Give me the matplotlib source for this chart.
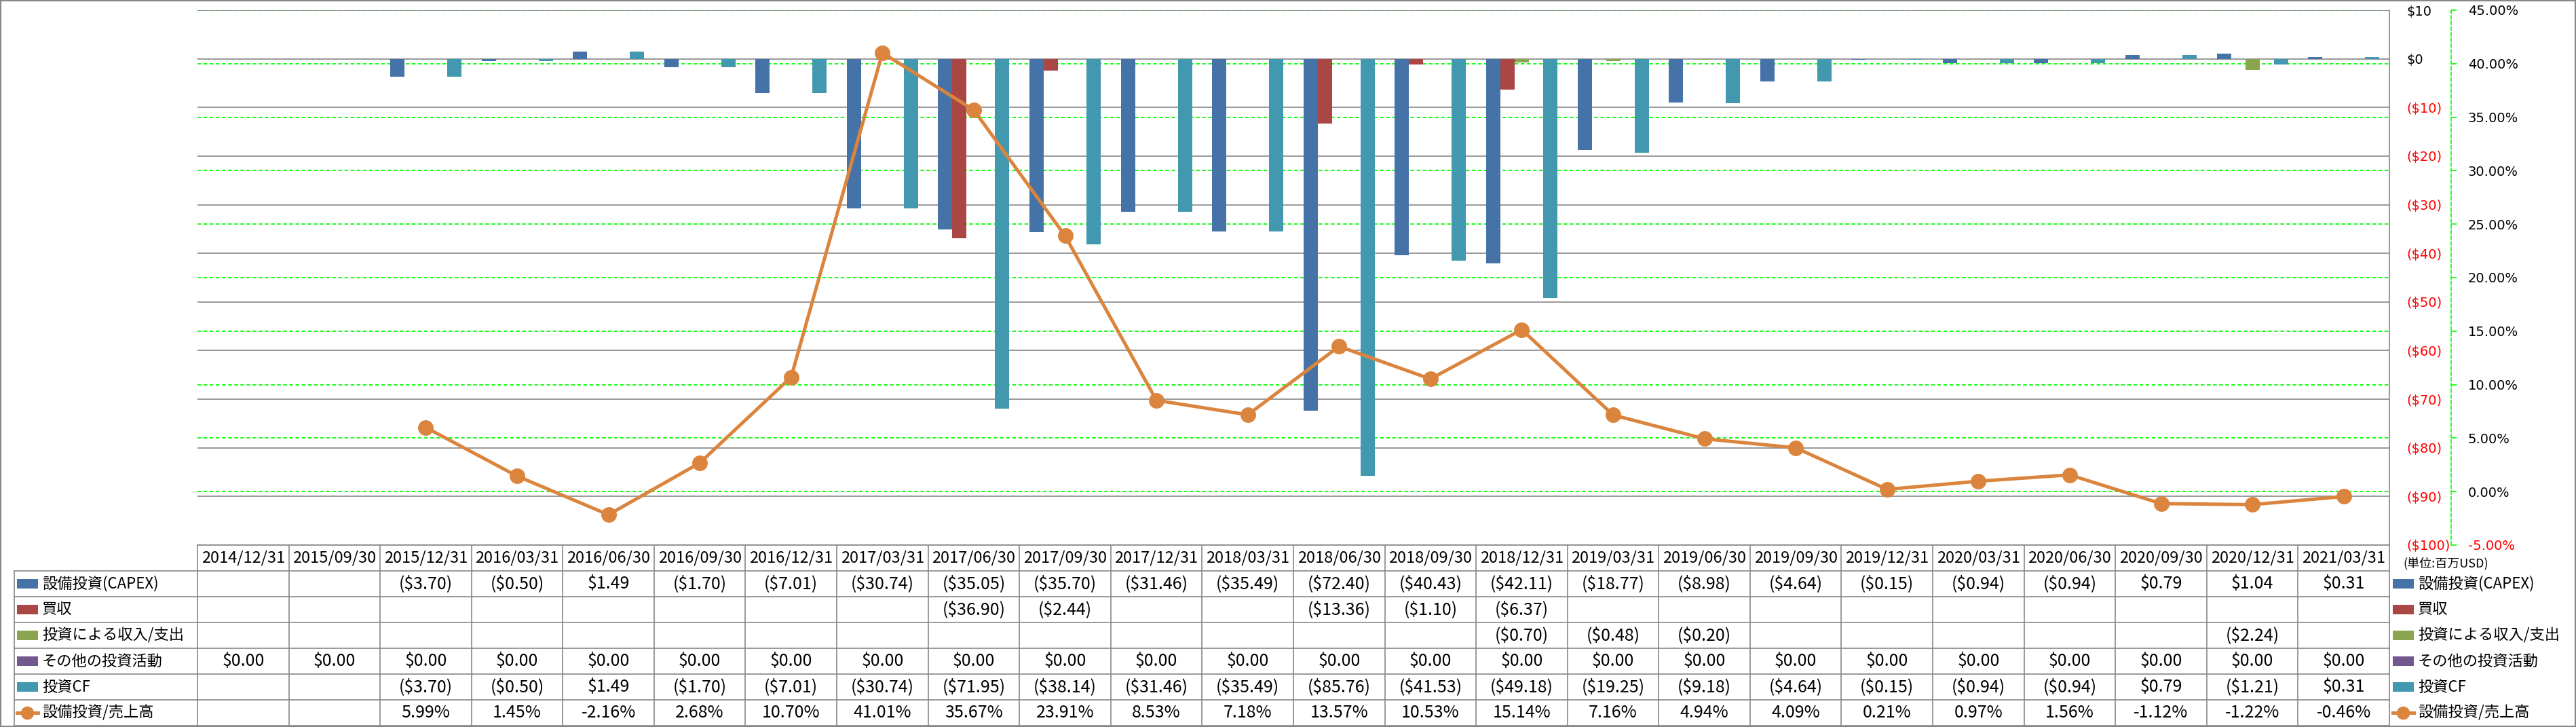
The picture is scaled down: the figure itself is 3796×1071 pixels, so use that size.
import numpy as np
import matplotlib
matplotlib.use("Agg")
import matplotlib.pyplot as plt
from matplotlib.patches import Rectangle

W, H = 3796, 1071

dates = ["2014/12/31", "2015/09/30", "2015/12/31", "2016/03/31", "2016/06/30", "2016/09/30",
         "2016/12/31", "2017/03/31", "2017/06/30", "2017/09/30", "2017/12/31", "2018/03/31",
         "2018/06/30", "2018/09/30", "2018/12/31", "2019/03/31", "2019/06/30", "2019/09/30",
         "2019/12/31", "2020/03/31", "2020/06/30", "2020/09/30", "2020/12/31", "2021/03/31"]
N = None
capex = [N, N, -3.70, -0.50, 1.49, -1.70, -7.01, -30.74, -35.05, -35.70, -31.46, -35.49,
         -72.40, -40.43, -42.11, -18.77, -8.98, -4.64, -0.15, -0.94, -0.94, 0.79, 1.04, 0.31]
acquisition = [N, N, N, N, N, N, N, N, -36.90, -2.44, N, N,
               -13.36, -1.10, -6.37, N, N, N, N, N, N, N, N, N]
invest_inout = [N, N, N, N, N, N, N, N, N, N, N, N,
                N, N, -0.70, -0.48, -0.20, N, N, N, N, N, -2.24, N]
other_invest = [0.00] * 24
invest_cf = [N, N, -3.70, -0.50, 1.49, -1.70, -7.01, -30.74, -71.95, -38.14, -31.46, -35.49,
             -85.76, -41.53, -49.18, -19.25, -9.18, -4.64, -0.15, -0.94, -0.94, 0.79, -1.21, 0.31]
capex_ratio = [N, N, 5.99, 1.45, -2.16, 2.68, 10.70, 41.01, 35.67, 23.91, 8.53, 7.18,
               13.57, 10.53, 15.14, 7.16, 4.94, 4.09, 0.21, 0.97, 1.56, -1.12, -1.22, -0.46]

names = ["設備投資(CAPEX)", "買収", "投資による収入/支出", "その他の投資活動", "投資CF", "設備投資/売上高"]
colors = ["#4572A7", "#AA4643", "#89A54E", "#71588F", "#4198AF", "#DB843D"]
bar_series = [capex, acquisition, invest_inout, other_invest, invest_cf]

money_ticks = list(range(-100, 11, 10))
pct_ticks = list(range(-5, 46, 5))

jp = ["Noto Sans CJK JP", "DejaVu Sans"]
narrow = ["Liberation Sans Narrow", "Noto Sans CJK JP"]


def money(v):
    if v is None:
        return ""
    return "(${:.2f})".format(-v) if v < 0 else "${:.2f}".format(v)


def px(x0, y0, x1, y1):
    # pixel box -> figure fraction rect
    return [x0 / W, 1 - y1 / H, (x1 - x0) / W, (y1 - y0) / H]


fig = plt.figure(figsize=(W / 100, H / 100), dpi=100)

left, right, top, bottom = 291, 3521, 15, 803
rect = px(left, top, right, bottom)

# secondary axis (percent) at the back: green dashed grid + spine
ax2 = fig.add_axes(rect)
ax2.set_zorder(0)
ax2.set_xlim(-0.5, 23.5)
ax2.set_ylim(-5, 45)
ax2.set_xticks([])
for s in ["left", "top", "bottom"]:
    ax2.spines[s].set_visible(False)
ax2.spines["right"].set_position(("outward", 91 * 0.72))
ax2.spines["right"].set_color("#00FF00")
ax2.spines["right"].set_linestyle((0, (3, 2)))
ax2.spines["right"].set_linewidth(1.2)
ax2.yaxis.tick_right()
ax2.set_yticks(pct_ticks, ["{:.2f}%".format(t) for t in pct_ticks])
ax2.tick_params(axis="y", colors="#00FF00", length=6, width=1.2, pad=12, labelsize=14)
for t, lab in zip(pct_ticks, ax2.get_yticklabels()):
    lab.set_color("red" if t < 0 else "black")
ax2.grid(axis="y", color="#00FF00", linestyle=(0, (3, 2)), linewidth=1.3)

# primary axis (money) with bars
ax = fig.add_axes(rect)
ax.set_zorder(1)
ax.patch.set_visible(False)
ax.set_xlim(-0.5, 23.5)
ax.set_ylim(-100, 10)
ax.set_xticks([])
for s in ["left", "top", "bottom"]:
    ax.spines[s].set_visible(False)
ax.spines["right"].set_color("#888888")
ax.spines["right"].set_linewidth(1.2)
ax.yaxis.tick_right()
ax.set_yticks(money_ticks, ["(${})".format(-t) if t < 0 else "${}".format(t) for t in money_ticks])
ax.tick_params(axis="y", length=0, pad=18, labelsize=14)
for t, lab in zip(money_ticks, ax.get_yticklabels()):
    lab.set_color("red" if t < 0 else "black")
ax.grid(axis="y", color="#888888", linewidth=1.2)
ax.set_axisbelow(True)

bw = 0.156
x = np.arange(len(dates))
for k, (vals, c) in enumerate(zip(bar_series, colors[:5])):
    xs = [x[i] + (k - 2) * bw for i, v in enumerate(vals) if v is not None]
    hs = [v for v in vals if v is not None]
    ax.bar(xs, hs, width=bw, color=c, zorder=2)

# line on top
ax3 = fig.add_axes(rect)
ax3.set_zorder(2)
ax3.patch.set_visible(False)
ax3.set_xlim(-0.5, 23.5)
ax3.set_ylim(-5, 45)
ax3.axis("off")
lx = [x[i] for i, v in enumerate(capex_ratio) if v is not None]
ly = [v for v in capex_ratio if v is not None]
ax3.plot(lx, ly, color=colors[5], linewidth=3.6, marker="o", markersize=15.5, zorder=3)

# data table drawn in pixel space
tab = fig.add_axes([0, 0, 1, 1])
tab.set_zorder(3)
tab.set_xlim(0, W)
tab.set_ylim(H, 0)
tab.axis("off")

colw = (right - left) / len(dates)
col_edges = [left + i * colw for i in range(len(dates) + 1)]
row_edges = [803 + i * 38 for i in range(8)]
gc, glw = "#888888", 1.2

tab.plot([left, right], [row_edges[0]] * 2, color=gc, lw=glw)
for yy in row_edges[1:]:
    tab.plot([21, right], [yy, yy], color=gc, lw=glw)
for xx in col_edges:
    tab.plot([xx, xx], [row_edges[0], row_edges[-1]], color=gc, lw=glw)
tab.plot([21, 21], [row_edges[1], row_edges[-1]], color=gc, lw=glw)

for i, d in enumerate(dates):
    tab.text(left + (i + 0.5) * colw, (row_edges[0] + row_edges[1]) / 2, d,
             ha="center", va="center", fontsize=17, family=narrow)

rows = [[money(v) for v in s] for s in bar_series]
rows.append(["" if v is None else "{:.2f}%".format(v) for v in capex_ratio])
for r, vals in enumerate(rows):
    yc = (row_edges[r + 1] + row_edges[r + 2]) / 2
    for i, s in enumerate(vals):
        if s:
            tab.text(left + (i + 0.5) * colw, yc, s, ha="center", va="center",
                     fontsize=18, family=narrow)


def key(x0, yc, r):
    if r < 5:
        tab.add_patch(Rectangle((x0, yc - 7), 31, 14, color=colors[r], lw=0))
    else:
        tab.plot([x0, x0 + 31], [yc, yc], color=colors[5], lw=3.6)
        tab.plot([x0 + 15.5], [yc], marker="o", markersize=13, color=colors[5])


for r, name in enumerate(names):
    yc = (row_edges[r + 1] + row_edges[r + 2]) / 2
    key(25, yc, r)
    tab.text(62, yc, name, ha="left", va="center", fontsize=16, family=jp)
    key(3526, yc, r)
    tab.text(3563, yc, name, ha="left", va="center", fontsize=16, family=jp, clip_on=True)

tab.text(3541, 830, "(単位:百万USD)", ha="left", va="center", fontsize=13, family=jp)

# chart border
tab.add_patch(Rectangle((0.5, 0.5), W - 1.5, H - 1.5, fill=False, edgecolor="#888888", lw=1.5))

fig.savefig("out.png", dpi=100)
